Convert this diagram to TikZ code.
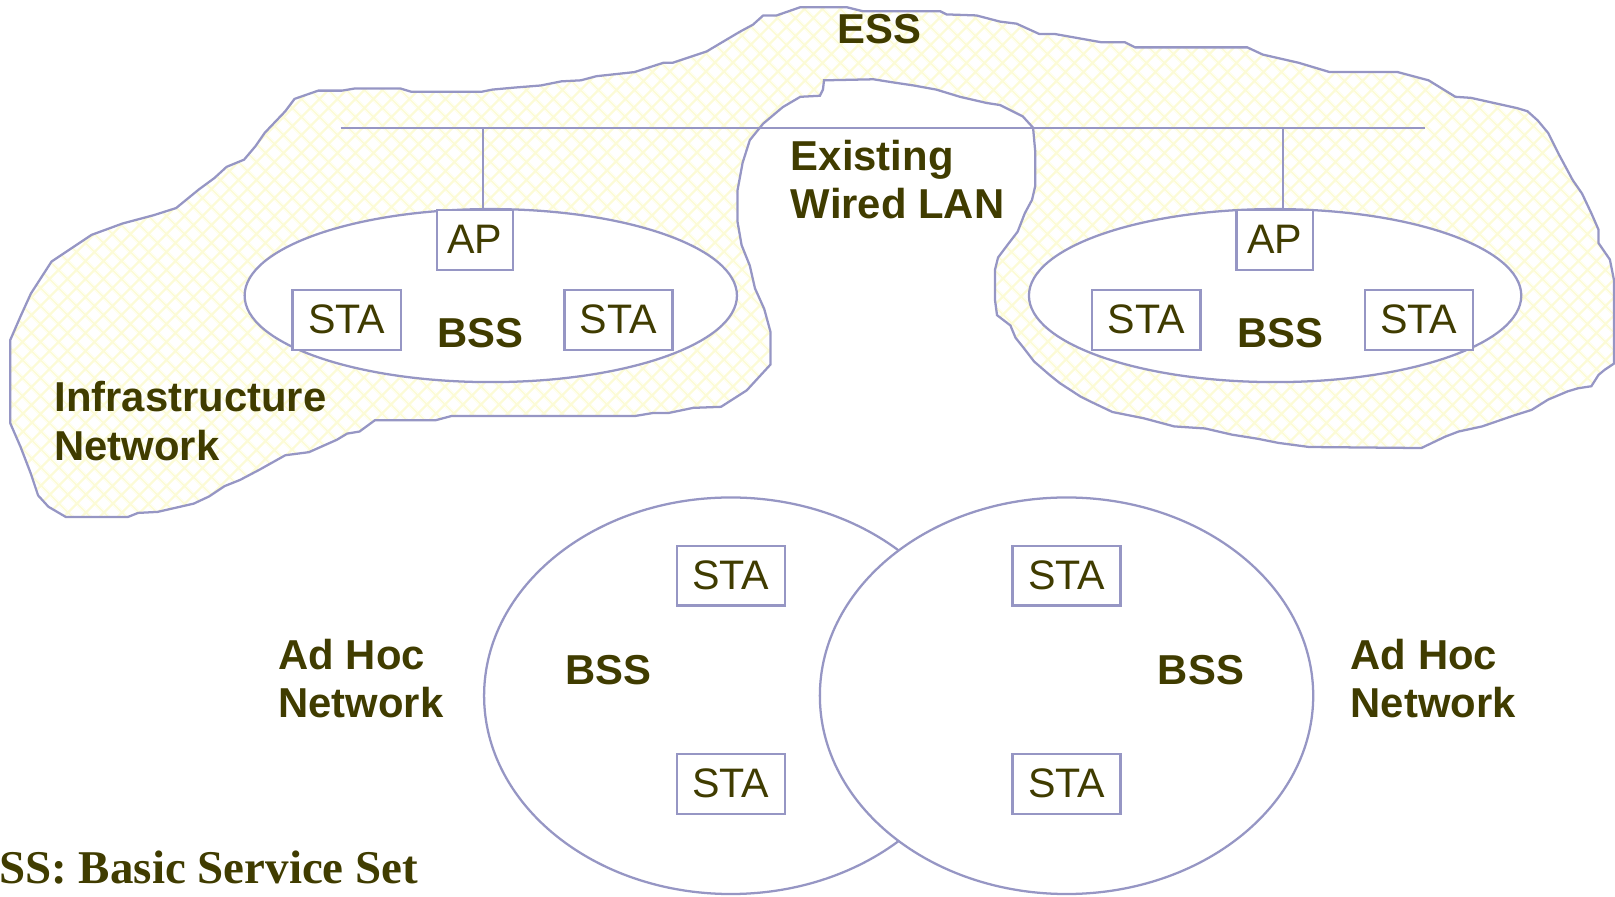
\documentclass[tikz,border=0pt]{standalone}
\usepackage{fontspec}
\setmainfont{Liberation Sans}
\newfontfamily\capfont{Liberation Serif}
\usetikzlibrary{patterns.meta,shapes.geometric}
\definecolor{lav}{RGB}{150,150,196}
\definecolor{txtc}{RGB}{64,60,0}
\definecolor{hatchc}{RGB}{252,251,214}
\begin{document}
\begin{tikzpicture}[x=0.5pt,y=-0.5pt,
  line/.style={draw=lav,line width=1.1pt},
  stabox/.style={draw=lav,line width=1.1pt,fill=white,inner sep=0pt,
    minimum width=52.5pt,minimum height=29pt,
    font=\fontsize{20}{24}\selectfont,text=txtc},
  apbox/.style={stabox,minimum width=37pt},
  lbl/.style={font=\fontsize{20.3}{24}\selectfont\bfseries,text=txtc,inner sep=0pt},
  bssell/.style={ellipse,draw=lav,line width=1.1pt,fill=white,inner sep=0pt},
  cloud/.style={draw=lav,line width=1.1pt,
    pattern={Hatch[angle=45,distance=6.5pt,line width=1.2pt]},pattern color=hatchc},
]
\useasboundingbox (0,0) rectangle (1568,870);

% ESS cloud
\path[cloud] (748,354) -- (725,379) -- (700,395) -- (673,396) -- (649,401) -- (634,401)
 -- (616,404) -- (438,404) -- (423,408) -- (364,408) -- (349,419) -- (337,421)
 -- (327,427) -- (300,439) -- (277,442) -- (252,456) -- (233,466) -- (218,472)
 -- (203,482) -- (188,489) -- (153,497) -- (134,498) -- (124,502) -- (64,502)
 -- (47,492) -- (37,481) -- (30,460) -- (20,434) -- (10,411) -- (10,330)
 -- (20,307) -- (30,285) -- (50,254) -- (74,238) -- (89,228) -- (119,217)
 -- (149,209) -- (171,202) -- (193,184) -- (208,173) -- (220,162) -- (237,155)
 -- (248,142) -- (257,129) -- (277,108) -- (286,96) -- (309,88) -- (332,88)
 -- (344,86) -- (389,86) -- (399,89) -- (468,89) -- (478,87) -- (500,85)
 -- (525,83) -- (545,79) -- (564,78) -- (579,74) -- (616,70) -- (644,61)
 -- (653,61) -- (686,50) -- (718,31) -- (731,24) -- (741,15) -- (754,15)
 -- (777,7) -- (822,7) -- (838,11) -- (913,11) -- (919,14) -- (948,15)
 -- (971,21) -- (987,23) -- (1009,33) -- (1024,33) -- (1069,41) -- (1092,41)
 -- (1102,46) -- (1211,46) -- (1226,53) -- (1261,61) -- (1291,70) -- (1357,70)
 -- (1387,78) -- (1413,94) -- (1428,95) -- (1473,105) -- (1483,108) -- (1493,117)
 -- (1503,129) -- (1513,149) -- (1527,175) -- (1536,188) -- (1545,207) -- (1552,223)
 -- (1552,236) -- (1563,252) -- (1567,272) -- (1567,353) -- (1558,359) -- (1552,364)
 -- (1545,375) -- (1532,377) -- (1522,380) -- (1503,388) -- (1487,398) -- (1471,403)
 -- (1439,414) -- (1416,419) -- (1403,424) -- (1380,435) -- (1271,434) -- (1241,430)
 -- (1221,426) -- (1196,422) -- (1170,416) -- (1140,414) -- (1110,406) -- (1080,400)
 -- (1059,390) -- (1049,385) -- (1029,372) -- (1019,364) -- (1004,351) -- (994,338)
 -- (986,328) -- (981,316) -- (968,306) -- (966,291) -- (966,262) -- (969,250)
 -- (978,238) -- (988,225) -- (995,207) -- (1002,194) -- (1005,181) -- (1005,146)
 -- (1003,124) -- (993,113) -- (971,102) -- (958,100) -- (932,94) -- (909,87)
 -- (887,83) -- (867,80) -- (848,77) -- (800,78) -- (799,87) -- (796,93)
 -- (777,94) -- (760,104) -- (741,120) -- (728,136) -- (721,158) -- (716,185)
 -- (716,215) -- (720,238) -- (728,258) -- (733,280) -- (742,300) -- (748,322) -- cycle;

% wired LAN
\coordinate (lanL) at (330.7,124);
\coordinate (lanR) at (1383.8,124);
\coordinate (tapL) at (468.6,124);
\coordinate (tapR) at (1246,124);
\draw[line] (lanL) -- (lanR);

% infrastructure BSSs
\node[bssell,minimum width=239pt,minimum height=84pt] (bssUL) at (476.5,287) {};
\node[bssell,minimum width=239pt,minimum height=84pt] (bssUR) at (1238,287) {};
\node[apbox] (apL) at (461,233) {\raisebox{1pt}{AP}};
\node[apbox] (apR) at (1237.5,233) {\raisebox{1pt}{AP}};
\draw[line] (tapL) -- (tapL |- apL.north);
\draw[line] (tapR) -- (tapR |- apR.north);
\node[stabox] (staUL1) at (336.5,310.5) {STA};
\node[stabox] (staUL2) at (600.5,310.5) {STA};
\node[stabox] (staUR1) at (1113,310.5) {STA};
\node[stabox] (staUR2) at (1377.5,310.5) {STA};
\node[lbl,anchor=base] (bssULt) at (466.5,337) {BSS};
\node[lbl,anchor=base] (bssURt) at (1243.5,337) {BSS};

% ad hoc BSSs
\node[bssell,minimum width=239.5pt,minimum height=192.5pt] (bssLL) at (709.5,675.5) {};
\node[bssell,minimum width=239.5pt,minimum height=192.5pt] (bssLR) at (1035.5,675.5) {};
\node[stabox] (staLL1) at (709.5,559) {STA};
\node[stabox] (staLL2) at (709.5,761) {STA};
\node[stabox] (staLR1) at (1035.5,559) {STA};
\node[stabox] (staLR2) at (1035.5,761) {STA};
\node[lbl,anchor=base] (bssLLt) at (591,665) {BSS};
\node[lbl,anchor=base] (bssLRt) at (1166,665) {BSS};

% labels
\node[lbl,anchor=base] (ess) at (853.5,42) {ESS};
\node[lbl,anchor=base west] (lanA) at (767.5,166) {Existing};
\node[lbl,anchor=base west] (lanB) at (767.5,212) {Wired LAN};
\node[lbl,anchor=base west] (infA) at (52.5,400) {Infrastructure};
\node[lbl,anchor=base west] (infB) at (52.5,447) {Network};
\node[lbl,anchor=base west] (ahLA) at (270,650) {Ad Hoc};
\node[lbl,anchor=base west] (ahLB) at (270,697) {Network};
\node[lbl,anchor=base west] (ahRA) at (1311,650) {Ad Hoc};
\node[lbl,anchor=base west] (ahRB) at (1311,697) {Network};
\node[anchor=base west,inner sep=0pt,text=txtc,
  font=\capfont\bfseries\fontsize{22.8}{27}\selectfont] (caption) at (-1,858) {SS: Basic Service Set};
\end{tikzpicture}
\end{document}
